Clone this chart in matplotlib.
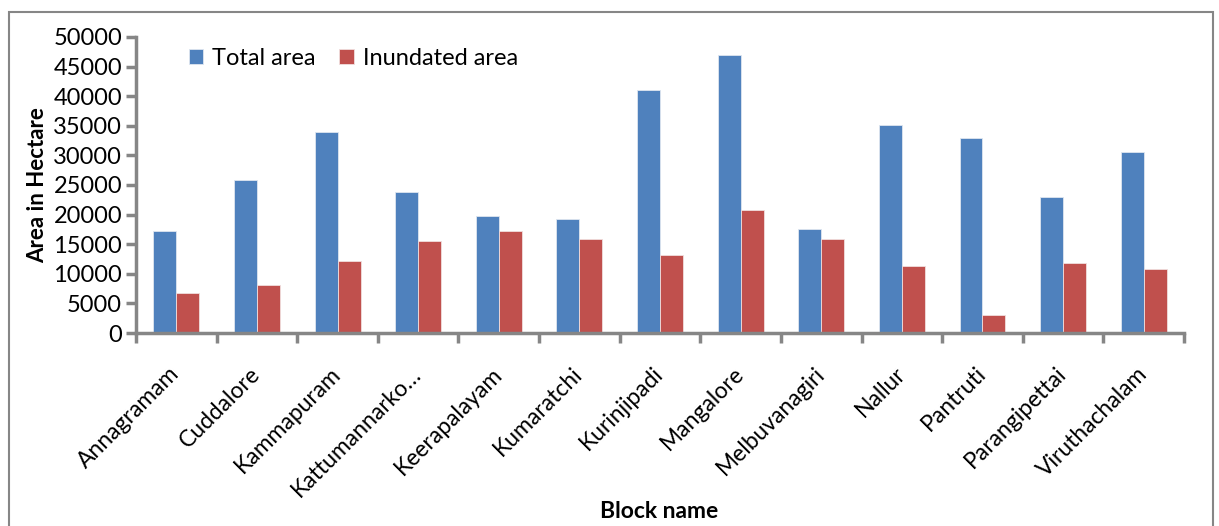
import matplotlib.pyplot as plt
import numpy as np
from matplotlib.patches import Rectangle

plt.rcParams['font.family'] = ['Lato', 'DejaVu Sans']

# Area per block (hectare)
blocks = ['Annagramam', 'Cuddalore', 'Kammapuram', 'Kattumannarko\u2026', 'Keerapalayam',
          'Kumaratchi', 'Kurinjipadi', 'Mangalore', 'Melbuvanagiri', 'Nallur',
          'Pantruti', 'Parangipettai', 'Viruthachalam']
total_area = [17200, 25900, 34000, 23900, 19800, 19200, 41000, 47000, 17500, 35200, 33000, 22900, 30500]
inundated_area = [6800, 8100, 12200, 15500, 17200, 15800, 13100, 20800, 15800, 11400, 3100, 11800, 10800]

grey = '#868686'
fig = plt.figure(figsize=(12.19, 5.26), dpi=100)
ax = fig.add_axes([0.1116, 0.3669, 0.8597, 0.5628])

x = np.arange(len(blocks))
w = 0.285
ax.bar(x - w/2, total_area, w, color='#4F81BD', edgecolor='#dfe6f0', linewidth=0.6, label='Total area')
ax.bar(x + w/2, inundated_area, w, color='#C0504D', edgecolor='#f0dede', linewidth=0.6, label='Inundated area')

ax.set_xlim(-0.5, len(blocks) - 0.5)
ax.set_ylim(0, 50000)
ax.set_yticks(np.arange(0, 50001, 5000))
ax.set_xticks(x)
ax.set_xticklabels(blocks, rotation=45, ha='right', va='center', rotation_mode='anchor', fontsize=16.5)
ax.tick_params(axis='x', which='major', length=0, pad=27)
ax.set_xticks(np.arange(-0.5, len(blocks), 1), minor=True)
ax.tick_params(axis='x', which='minor', length=7, width=2.5, color=grey)
ax.tick_params(axis='y', length=7, width=2.5, color=grey, labelsize=17, pad=3)

for s in ['top', 'right']:
    ax.spines[s].set_visible(False)
for s in ['left', 'bottom']:
    ax.spines[s].set_color(grey)
    ax.spines[s].set_linewidth(2.5)

ax.set_ylabel('Area in Hectare', fontsize=16, fontweight='bold', labelpad=4)
fig.text(0.541, 0.027, 'Block name', ha='center', va='center', fontsize=16.5, fontweight='bold')

ax.legend(loc='upper left', bbox_to_anchor=(0.03, 1.035), ncol=2, frameon=False, fontsize=17,
          handlelength=0.6, handleheight=0.6, handletextpad=0.4, columnspacing=1.0)

fig.patches.append(Rectangle((9/1219, -0.02), 1204/1219, 1.02 - 12/526, transform=fig.transFigure,
                             fill=False, edgecolor=grey, linewidth=1.5))

fig.savefig('out.png', dpi=100)
